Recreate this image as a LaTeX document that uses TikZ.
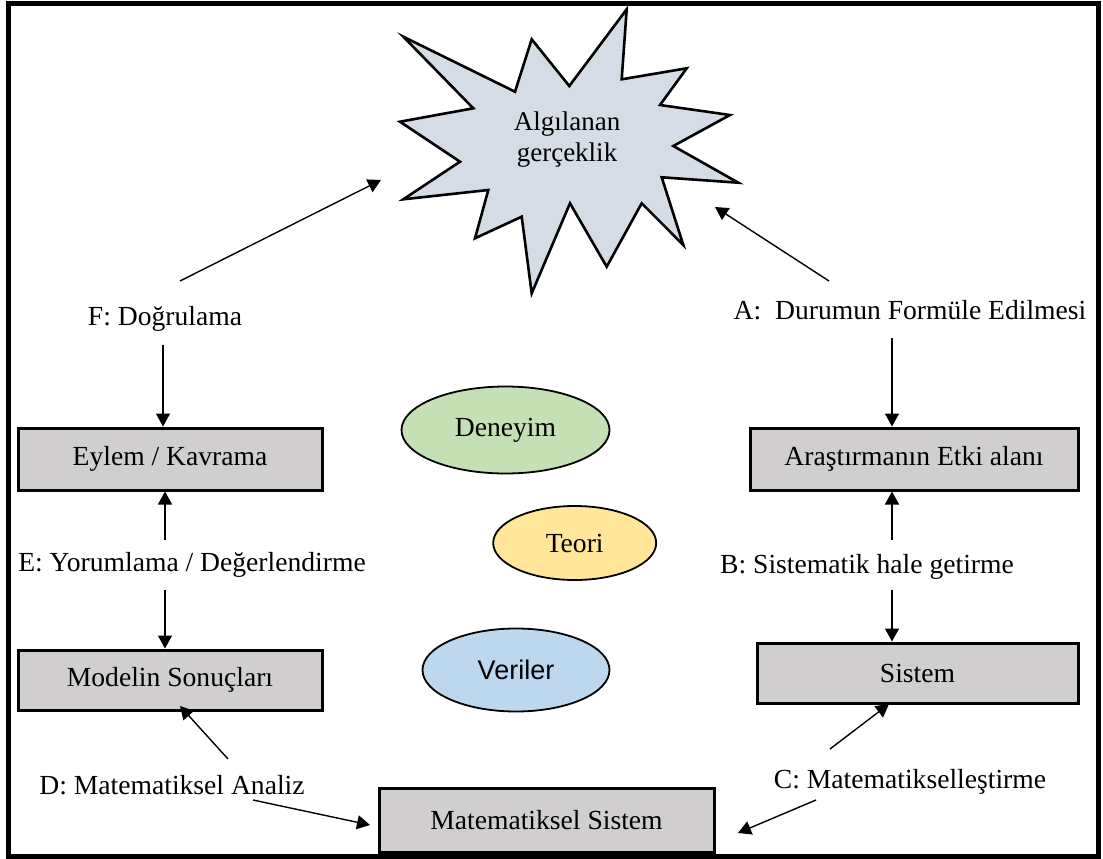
\documentclass[tikz,border=0pt]{standalone}
\usepackage{fontspec}
\setmainfont{Liberation Serif}
\newfontfamily\arialfont{Liberation Sans}
\usetikzlibrary{shapes.geometric,arrows.meta}
\definecolor{boxgray}{HTML}{D0CECE}
\definecolor{stargray}{HTML}{D6DCE5}
\definecolor{egreen}{HTML}{C5E0B4}
\definecolor{eyellow}{HTML}{FFE699}
\definecolor{eblue}{HTML}{BDD7EE}
\tikzset{
  txt/.style={font=\fontsize{27.6}{30}\selectfont, inner sep=0pt},
  box/.style={draw, line width=3pt, fill=boxgray, txt},
  oval/.style={ellipse, draw, line width=1.8pt, txt},
  arr/.style={line width=1.4pt, -{Triangle[length=13pt,width=14pt]}},
}
\begin{document}
\begin{tikzpicture}[x=1pt,y=-1pt]
\useasboundingbox (0,0) rectangle (1103,859);
\fill[white] (0,0) rectangle (1103,859);
\draw[line width=5pt] (8,3.5) rectangle (1098,856);

% star
\draw[line width=2.6pt, fill=stargray, line join=miter]
  (403.3,36.7) -- (515,91.7) -- (531.7,39.3) -- (569.3,86) -- (626.7,9.3)
  -- (621.7,79.3) -- (686.7,68.3) -- (660,105) -- (730,115) -- (673.3,146)
  -- (738.3,182.7) -- (661.7,177.3) -- (683.3,245) -- (641.7,203.3)
  -- (606.7,266.7) -- (570,203.3) -- (531.7,293.3) -- (521.7,216.7)
  -- (475,238.3) -- (488.3,190) -- (403.3,199.3) -- (460,161.7)
  -- (400,121.7) -- (473.3,108.3) -- cycle;
\node[txt, align=center, font=\fontsize{27}{31}\selectfont] (star) at (567,140) {Algılanan\\gerçeklik};

% boxes
\node[box, minimum width=304, minimum height=62] (eylem) at (170,459) {Eylem / Kavrama};
\node[box, minimum width=304, minimum height=60] (modelin) at (170,680) {Modelin Sonuçları};
\node[box, minimum width=328, minimum height=62] (arastirma) at (914,459) {Araştırmanın Etki alanı};
\node[box, minimum width=321, minimum height=60] (sistem) at (917.5,673) {Sistem};
\node[box, minimum width=335, minimum height=64] (matsis) at (546.5,820) {Matematiksel Sistem};

% ellipses
\node[oval, fill=egreen, minimum width=208, minimum height=87] (deneyim) at (505.5,430) {Deneyim};
\node[oval, fill=eyellow, minimum width=163, minimum height=74] (teori) at (574.7,543) {Teori};
\node[oval, fill=eblue, minimum width=187, minimum height=83, font=\arialfont\fontsize{27}{30}\selectfont] (veriler) at (516,670) {Veriler};

% labels
\node[txt] (lF) at (165,319) {F: Doğrulama};
\node[txt] (lA) at (910,310) {A:~ Durumun Formüle Edilmesi};
\node[txt] (lE) at (192,565) {E: Yorumlama / Değerlendirme};
\node[txt] (lB) at (867,567) {B: Sistematik hale getirme};
\node[txt] (lD) at (172,785) {D: Matematiksel Analiz};
\node[txt] (lC) at (910,782) {C: Matematikselleştirme};

% arrow coordinates
\coordinate (f1) at (180,281);
\coordinate (f2) at (381,180);
\coordinate (a1) at (829,281);
\coordinate (a2) at (715,207);
\coordinate (fd) at (163,345);
\coordinate (ad) at (892,338);
\coordinate (eu) at (165,540);
\coordinate (ed) at (165,590);
\coordinate (bu) at (892,540);
\coordinate (bd) at (892,590);
\coordinate (d1) at (228,759);
\coordinate (d2) at (180,706);
\coordinate (d3) at (253,800);
\coordinate (d4) at (370,825);
\coordinate (c1) at (830,749);
\coordinate (c2) at (889,704);
\coordinate (c3) at (816,800);
\coordinate (c4) at (738,833);

\draw[arr] (f1) -- (f2);
\draw[arr] (a1) -- (a2);
\draw[arr] (fd) -- (fd |- eylem.north);
\draw[arr] (ad) -- (ad |- arastirma.north);
\draw[arr] (eu) -- (eu |- eylem.south);
\draw[arr] (ed) -- (ed |- modelin.north);
\draw[arr] (bu) -- (bu |- arastirma.south);
\draw[arr] (bd) -- (bd |- sistem.north);
\draw[arr] (d1) -- (d2);
\draw[arr] (d3) -- (d4);
\draw[arr] (c1) -- (c2);
\draw[arr] (c3) -- (c4);
\end{tikzpicture}
\end{document}
